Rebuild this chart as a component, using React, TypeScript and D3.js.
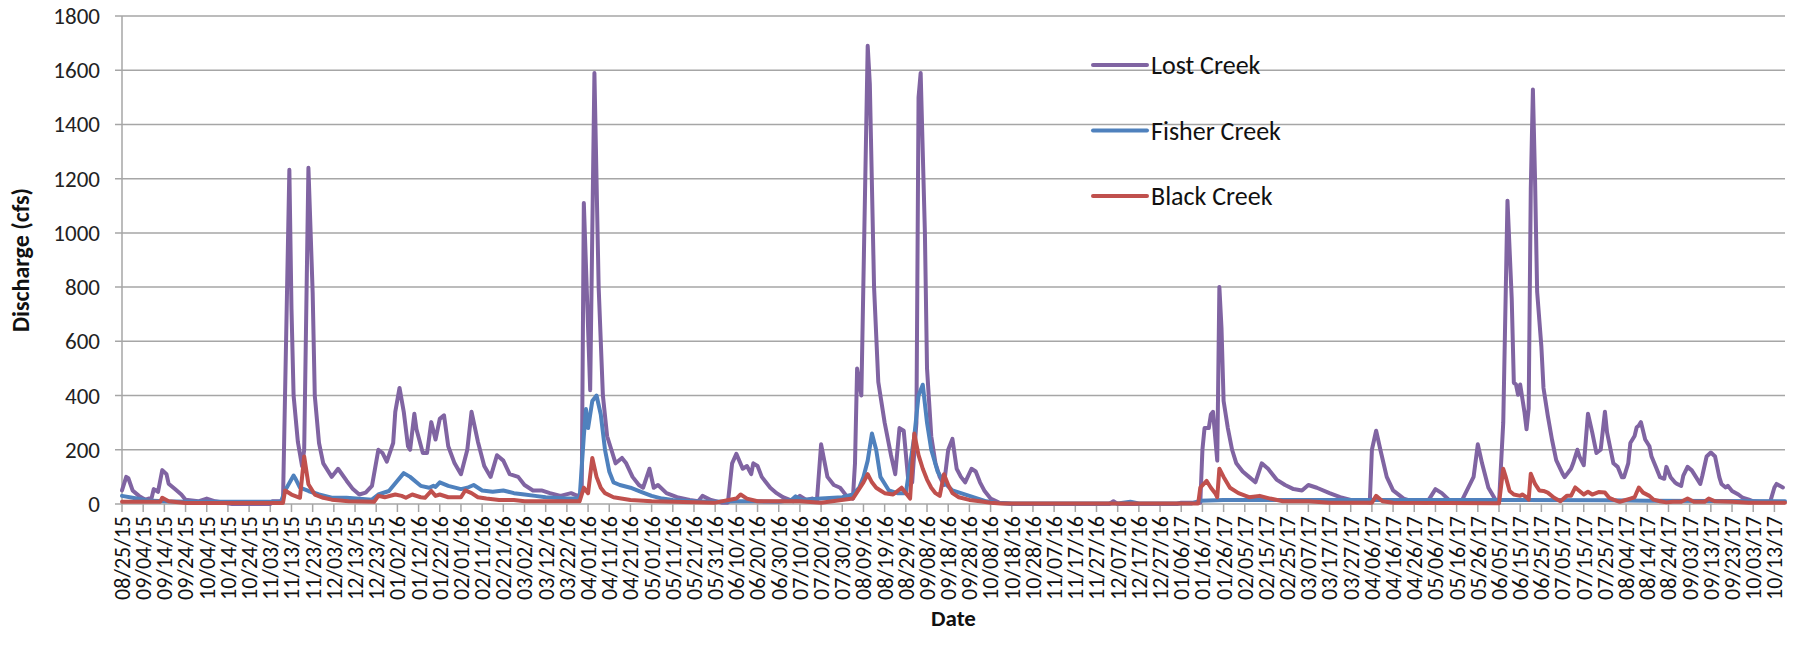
import React from 'react';
import * as d3 from 'd3';

// first sample date; every series point is [days since start, discharge in cfs]
const startDate = new Date(2015, 7, 25);
const lastDay = 785;
const tickDays = d3.range(0, 781, 10);
const yTicks = [0, 200, 400, 600, 800, 1000, 1200, 1400, 1600, 1800];

const lostCreek: [number, number][] = [
  [0, 50], [2, 100], [3, 95], [5, 50], [8, 30], [11, 16], [14, 23], [15, 55], [17, 45], [19, 125],
  [21, 110], [22, 75], [25, 55], [28, 35], [30, 16], [36, 10], [40, 20], [44, 10], [49, 4], [52, 0],
  [70, 0], [71, 10], [76, 10], [79, 1233], [80, 720], [81, 400], [83, 230], [85, 140], [86, 200],
  [88, 1240], [90, 780], [91, 400], [93, 225], [95, 150], [99, 100], [102, 130], [106, 86], [109, 55],
  [112, 35], [115, 42], [118, 67], [121, 200], [123, 188], [125, 156], [128, 225], [129, 340], [131, 428],
  [133, 340], [135, 213], [136, 200], [138, 333], [139, 276], [142, 188], [144, 188], [146, 302], [148, 238],
  [150, 314], [152, 327], [154, 213], [157, 150], [160, 110], [163, 200], [165, 340], [168, 230], [171, 140],
  [174, 100], [177, 180], [180, 160], [183, 110], [187, 100], [190, 70], [194, 50], [198, 50], [202, 40],
  [207, 30], [212, 40], [215, 30], [217, 40], [218, 1110], [221, 420], [223, 1590], [225, 800], [227, 400],
  [229, 250], [231, 200], [233, 150], [236, 170], [238, 150], [241, 100], [244, 70], [246, 60], [249, 130],
  [251, 60], [253, 70], [257, 40], [262, 25], [268, 15], [272, 10], [274, 30], [278, 15], [283, 5], [286, 5],
  [288, 150], [290, 185], [293, 130], [295, 140], [297, 110], [298, 150], [300, 140], [302, 100], [306, 60],
  [309, 40], [312, 25], [317, 10], [320, 30], [323, 15], [326, 20], [328, 10], [330, 220], [333, 100],
  [336, 70], [339, 60], [342, 30], [345, 20], [346, 150], [347, 500], [349, 400], [352, 1690], [353, 1550],
  [355, 800], [357, 450], [360, 300], [363, 180], [365, 110], [367, 280], [369, 270], [371, 100], [373, 80],
  [375, 300], [376, 1500], [377, 1590], [379, 1000], [380, 500], [382, 250], [384, 150], [386, 100],
  [388, 70], [390, 200], [392, 240], [394, 130], [396, 100], [398, 80], [401, 130], [403, 120], [405, 80],
  [407, 50], [410, 20], [414, 5], [420, 0], [466, 0], [468, 10], [470, 0], [498, 0], [500, 5], [509, 5],
  [510, 200], [511, 280], [513, 280], [514, 330], [515, 340], [516, 250], [517, 160], [518, 800],
  [519, 650], [520, 380], [522, 280], [524, 200], [526, 150], [529, 120], [532, 100], [535, 80], [538, 150],
  [541, 130], [545, 90], [549, 70], [553, 55], [557, 50], [560, 70], [564, 60], [570, 40], [575, 25],
  [580, 15], [585, 10], [589, 5], [590, 200], [592, 270], [594, 200], [597, 100], [600, 50], [605, 20],
  [610, 8], [616, 5], [620, 55], [623, 40], [627, 10], [632, 5], [638, 100], [640, 220], [642, 150],
  [645, 60], [648, 20], [650, 5], [652, 300], [654, 1119], [656, 758], [657, 447], [658, 441], [659, 403],
  [660, 441], [662, 340], [663, 276], [664, 352], [665, 1164], [666, 1529], [667, 1202], [668, 783],
  [670, 580], [671, 428], [673, 327], [675, 238], [677, 162], [680, 112], [681, 99], [684, 130], [685, 150],
  [687, 200], [688, 175], [690, 143], [692, 333], [694, 264], [696, 188], [698, 200], [700, 340], [701, 264],
  [704, 150], [706, 137], [708, 99], [709, 99], [711, 150], [712, 225], [714, 251], [715, 283], [716, 289],
  [717, 302], [719, 238], [721, 213], [722, 175], [724, 137], [726, 99], [728, 93], [729, 137], [731, 99],
  [733, 80], [734, 74], [736, 67], [737, 105], [739, 137], [741, 124], [743, 99], [745, 74], [746, 105],
  [748, 175], [750, 190], [752, 175], [754, 99], [755, 74], [757, 61], [758, 67], [760, 48], [763, 35],
  [765, 23], [768, 16], [770, 10], [773, 8], [778, 8], [780, 61], [781, 74], [784, 61]
];

const fisherCreek: [number, number][] = [
  [0, 30], [5, 23], [12, 13], [20, 10], [30, 8], [75, 8], [77, 50], [81, 105], [82, 92], [84, 60], [88, 48],
  [93, 35], [99, 23], [106, 23], [118, 16], [121, 35], [126, 48], [130, 86], [133, 114], [136, 100],
  [139, 80], [141, 67], [145, 60], [147, 67], [148, 63], [150, 80], [154, 67], [160, 55], [163, 60],
  [166, 70], [170, 50], [175, 45], [180, 50], [185, 40], [190, 35], [195, 30], [200, 25], [210, 20],
  [216, 20], [218, 250], [219, 350], [220, 280], [222, 380], [224, 400], [226, 330], [228, 200], [230, 120],
  [232, 80], [235, 70], [240, 60], [245, 45], [250, 30], [255, 20], [260, 15], [270, 10], [280, 8],
  [290, 10], [300, 10], [310, 8], [316, 15], [318, 28], [321, 15], [330, 20], [340, 25], [345, 35],
  [348, 60], [350, 100], [352, 160], [354, 260], [356, 200], [358, 100], [362, 50], [366, 40], [370, 40],
  [374, 250], [376, 400], [378, 440], [380, 300], [382, 200], [385, 120], [388, 80], [392, 50], [396, 40],
  [400, 30], [404, 20], [408, 10], [412, 5], [420, 2], [470, 2], [476, 8], [480, 2], [505, 2], [509, 12],
  [520, 15], [600, 15], [700, 14], [720, 12], [785, 10]
];

const blackCreek: [number, number][] = [
  [0, 8], [18, 8], [19, 23], [22, 10], [30, 4], [76, 4], [77, 50], [80, 35], [84, 23], [86, 175], [88, 73],
  [91, 35], [95, 23], [99, 16], [107, 10], [119, 8], [121, 30], [124, 25], [129, 35], [132, 30], [134, 23],
  [137, 35], [141, 25], [143, 23], [146, 48], [148, 30], [150, 35], [154, 25], [160, 25], [162, 50],
  [165, 40], [168, 25], [172, 20], [178, 15], [185, 15], [190, 10], [200, 10], [210, 10], [216, 10],
  [218, 60], [220, 40], [222, 170], [224, 100], [226, 60], [228, 40], [232, 25], [240, 15], [250, 10],
  [260, 8], [280, 5], [290, 20], [292, 35], [295, 20], [300, 10], [320, 10], [330, 5], [345, 20], [350, 80],
  [352, 110], [354, 80], [356, 60], [358, 50], [360, 40], [364, 35], [368, 60], [372, 20], [374, 260],
  [376, 180], [378, 130], [380, 90], [382, 60], [384, 40], [386, 30], [388, 110], [390, 70], [392, 40],
  [395, 25], [400, 15], [405, 10], [410, 5], [415, 2], [508, 2], [509, 60], [512, 85], [514, 60], [516, 40],
  [517, 25], [518, 130], [520, 100], [523, 60], [527, 40], [532, 25], [537, 30], [542, 20], [548, 10],
  [560, 10], [570, 5], [590, 5], [592, 30], [595, 10], [600, 5], [650, 3], [652, 130], [653, 105], [655, 48],
  [657, 35], [660, 30], [661, 35], [663, 25], [664, 16], [665, 112], [667, 74], [669, 50], [671, 48],
  [673, 42], [676, 23], [679, 10], [682, 30], [684, 30], [686, 61], [688, 48], [690, 35], [692, 45],
  [694, 35], [697, 44], [700, 42], [702, 23], [704, 16], [707, 8], [709, 13], [712, 20], [714, 25],
  [716, 61], [718, 42], [721, 30], [723, 16], [726, 10], [729, 6], [732, 8], [736, 8], [739, 20], [742, 8],
  [747, 8], [749, 20], [752, 10], [760, 8], [768, 5], [785, 5]
];

const series = [
  { name: 'Lost Creek', color: '#8064A2', values: lostCreek },
  { name: 'Fisher Creek', color: '#4F81BD', values: fisherCreek },
  { name: 'Black Creek', color: '#C0504D', values: blackCreek }
];

const W = 1802;
const H = 663;
const left = 122;
const right = 1785;
const top = 16;
const bottom = 504;
const font = 'Carlito, Calibri, Lato, sans-serif';

export default function App() {
  const x = d3
    .scaleTime()
    .domain([startDate, d3.timeDay.offset(startDate, lastDay)])
    .range([left, right]);
  const y = d3.scaleLinear().domain([0, 1800]).range([bottom, top]);
  const fmt = d3.timeFormat('%m/%d/%y');

  const line = d3
    .line<[number, number]>()
    .x(d => x(d3.timeDay.offset(startDate, d[0])))
    .y(d => y(d[1]));

  const ticks = tickDays.map(d => d3.timeDay.offset(startDate, d));

  return (
    <svg
      width={W}
      height={H}
      style={{ position: 'absolute', left: 0, top: 0, background: '#fff' }}
      fontFamily={font}
    >
      {yTicks.map(t => (
        <g key={t}>
          <line x1={left - 7} x2={right} y1={y(t)} y2={y(t)} stroke="#a6a6a6" strokeWidth={1.5} />
          <text x={left - 22} y={y(t)} dy="0.35em" textAnchor="end" fontSize={23} fill="#222">
            {t}
          </text>
        </g>
      ))}
      <line x1={left} x2={left} y1={top} y2={bottom} stroke="#a6a6a6" strokeWidth={1.5} />

      {ticks.map((t, i) => (
        <g key={i} transform={`translate(${x(t)},${bottom})`}>
          <line y1={0} y2={8} stroke="#a6a6a6" strokeWidth={1.5} />
          <text
            transform="rotate(-90)"
            x={-12}
            y={0}
            dy="0.36em"
            textAnchor="end"
            fontSize={22}
            fill="#111"
          >
            {fmt(t)}
          </text>
        </g>
      ))}

      {series.map(s => (
        <path
          key={s.name}
          d={line(s.values) || ''}
          fill="none"
          stroke={s.color}
          strokeWidth={4}
          strokeLinejoin="round"
          strokeLinecap="round"
        />
      ))}

      {series.map((s, i) => (
        <g key={s.name} transform={`translate(1093,${65 + i * 65.5})`}>
          <line x1={0} x2={54} y1={0} y2={0} stroke={s.color} strokeWidth={4} strokeLinecap="round" />
          <text x={58} y={0} dy="0.35em" fontSize={26} fill="#111">
            {s.name}
          </text>
        </g>
      ))}

      <text x={(left + right) / 2} y={618} dy="0.35em" textAnchor="middle" fontSize={23} fontWeight="bold" fill="#111">
        Date
      </text>
      <text
        transform={`translate(21,${(top + bottom) / 2}) rotate(-90)`}
        textAnchor="middle"
        dy="0.35em"
        fontSize={24}
        fontWeight="bold"
        fill="#111"
      >
        Discharge (cfs)
      </text>
    </svg>
  );
}
